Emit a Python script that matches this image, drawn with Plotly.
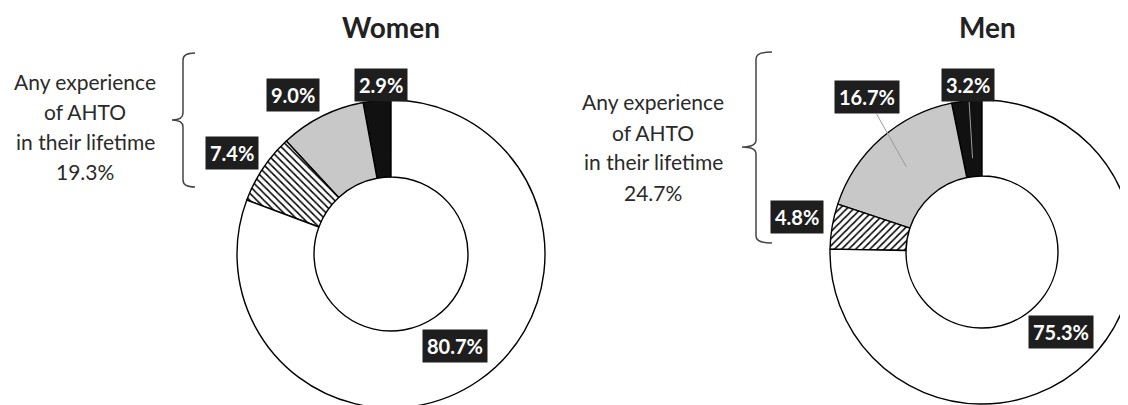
import math
import plotly.graph_objects as go

W, H = 1128, 405
OFF = 8  # page body margin: the figure is drawn 8px right/down in the window

# ---------------- data ----------------
categories = ["Category A", "Category B", "Category C", "No experience"]
women_values = [2.9, 9.0, 7.4, 80.7]
men_values = [3.2, 16.7, 4.8, 75.3]
women_labels = ["2.9%", "9.0%", "7.4%", "80.7%"]
men_labels = ["3.2%", "16.7%", "4.8%", "75.3%"]
titles = ["Women", "Men"]
side_lines = ["Any experience", "of AHTO", "in their lifetime"]
women_total = "19.3%"
men_total = "24.7%"

# ---------------- style ----------------
FONT = "Lato"
slice_colors = ["#111111", "#c8c8c8", "#ffffff", "#ffffff"]
women_pattern = ["", "", "\\", ""]
men_pattern = ["", "", "/", ""]

# pie geometry in window pixels: (center x, center y, outer radius)
women_geo = (391, 254, 154)
men_geo = (982, 252, 152)

# label placement (radius factor relative to outer radius, angle nudge in deg)
women_rf = [1.10, 1.21, 1.22, 0.73]
women_da = [-2.0, 5.0, 1.5, 0.0]
men_rf = [1.10, 1.27, 1.24, 0.74]
men_da = [-1.0, -5.0, -1.0, 0.0]


def px2paper(x, y):
    return (x - OFF) / W, 1 - (y - OFF) / H


def domain_of(geo):
    cx, cy, r = geo
    x0, y1 = px2paper(cx - r, cy - r)
    x1, y0 = px2paper(cx + r, cy + r)
    return dict(x=[max(0.0, x0), min(1.0, x1)], y=[max(0.0, y0), min(1.0, y1)])


def mid_angles(values):
    tot = sum(values)
    out = []
    acc = 0.0
    for v in values:
        out.append((acc + v / 2) / tot * 360.0)
        acc += v
    return out


def polar(cx, cy, r, ang):
    # angle in degrees, counterclockwise from 12 o'clock
    a = math.radians(ang)
    return cx - r * math.sin(a), cy - r * math.cos(a)


fig = go.Figure()

for vals, geo, pat in [(women_values, women_geo, women_pattern),
                       (men_values, men_geo, men_pattern)]:
    # plotly places the first counterclockwise slice ending at `rotation`;
    # shift so that the first slice starts at 12 o'clock
    rot = -360.0 * vals[0] / sum(vals)
    fig.add_trace(go.Pie(
        labels=categories,
        values=vals,
        hole=0.5,
        sort=False,
        direction="counterclockwise",
        rotation=rot,
        textinfo="none",
        hoverinfo="label+value",
        showlegend=False,
        domain=domain_of(geo),
        marker=dict(
            colors=slice_colors,
            line=dict(color="#000000", width=1.4),
            pattern=dict(shape=pat, fgcolor="#000000", bgcolor="#ffffff",
                         size=5, solidity=0.3, fillmode="replace"),
        ),
    ))

annotations = []
shapes = []

label_style = dict(font=dict(family=FONT, size=20, color="#ffffff", weight="bold"),
                   bgcolor="#1e1e1e", borderpad=4, xref="paper", yref="paper",
                   xanchor="center", yanchor="middle")

# women labels
cx, cy, r = women_geo
for i, (lab, ang) in enumerate(zip(women_labels, mid_angles(women_values))):
    lx, ly = polar(cx, cy, r * women_rf[i], ang + women_da[i])
    px, py = px2paper(lx, ly)
    annotations.append(dict(x=px, y=py, text=lab, showarrow=False, **label_style))

# men labels (gray and black have leader lines)
cx, cy, r = men_geo
leader_r = {0: 0.62, 1: 0.75}
for i, (lab, ang) in enumerate(zip(men_labels, mid_angles(men_values))):
    lx, ly = polar(cx, cy, r * men_rf[i], ang + men_da[i])
    if i in leader_r:
        hx, hy = polar(cx, cy, r * leader_r[i], ang)
        px, py = px2paper(hx, hy)
        annotations.append(dict(x=px, y=py, text=lab, showarrow=True,
                                ax=lx - hx, ay=ly - hy, arrowhead=0,
                                arrowwidth=1, arrowcolor="#9a9a9a", standoff=0,
                                **label_style))
    else:
        px, py = px2paper(lx, ly)
        annotations.append(dict(x=px, y=py, text=lab, showarrow=False, **label_style))

# titles
for t, x in zip(titles, [391, 987]):
    px, py = px2paper(x, 27)
    annotations.append(dict(x=px, y=py, xref="paper", yref="paper", text=t,
                            showarrow=False, xanchor="center", yanchor="middle",
                            font=dict(family=FONT, size=28, color="#222222",
                                      weight="bold")))

# side texts
side_w = side_lines + [women_total]
side_m = side_lines + [men_total]
for lines, x, y0 in [(side_w, 85, 81), (side_m, 653, 102)]:
    for k, line in enumerate(lines):
        px, py = px2paper(x, y0 + 30 * k)
        annotations.append(dict(x=px, y=py, xref="paper", yref="paper", text=line,
                                showarrow=False, xanchor="center", yanchor="middle",
                                font=dict(family=FONT, size=21, color="#2a2a2a")))


# braces
def brace(xl, xr, xm, yt, ym, yb):
    c = 7

    def P(x, y):
        a, b = px2paper(x, y)
        return f"{a:.5f},{b:.5f}"
    path = (f"M {P(xr, yt)} Q {P(xl, yt)} {P(xl, yt + c)} "
            f"L {P(xl, ym - c)} Q {P(xl, ym)} {P(xm, ym)} "
            f"Q {P(xl, ym)} {P(xl, ym + c)} "
            f"L {P(xl, yb - c)} Q {P(xl, yb)} {P(xr, yb)}")
    return dict(type="path", path=path, xref="paper", yref="paper",
                line=dict(color="#444444", width=1.5))


shapes.append(brace(183, 195, 172, 53, 120, 187))
shapes.append(brace(756, 772, 742, 52, 147, 243))

fig.update_layout(
    width=W, height=H,
    margin=dict(l=0, r=0, t=0, b=0),
    paper_bgcolor="#ffffff",
    plot_bgcolor="#ffffff",
    annotations=annotations,
    shapes=shapes,
    font=dict(family=FONT),
)

fig.write_html("out.html")
